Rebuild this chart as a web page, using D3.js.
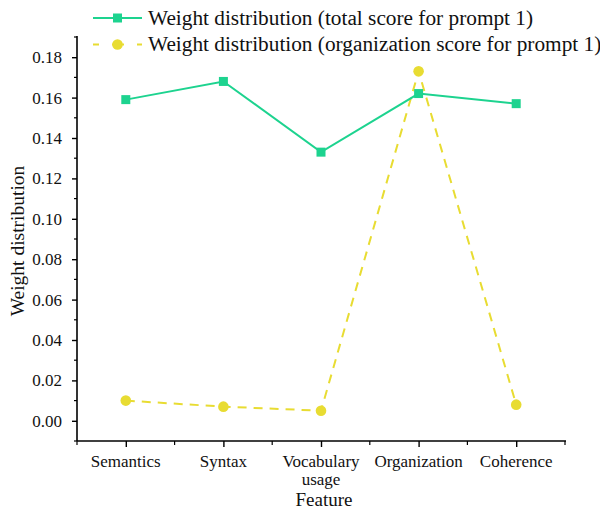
<!DOCTYPE html>
<html><head><meta charset="utf-8">
<script src="https://cdn.jsdelivr.net/npm/d3@7"></script>
<style>body{margin:0;background:#fff}svg{display:block}svg text{font-family:"Liberation Serif","Times New Roman",serif !important;fill:#111}</style>
</head><body><svg id="c" width="600" height="509"></svg>
<script>
const categories = ["Semantics","Syntax","Vocabulary usage","Organization","Coherence"];
const totalScore = [0.159,0.168,0.133,0.162,0.157];
const orgScore = [0.010,0.007,0.005,0.173,0.008];
const yTicks = [0.00,0.02,0.04,0.06,0.08,0.10,0.12,0.14,0.16,0.18];
const seriesNames = ["Weight distribution (total score for prompt 1)","Weight distribution (organization score for prompt 1)"];
const green = "#1dd38f", yellow = "#e8dc32";

const svg = d3.select("#c");
const L=77, R=565, T=37, B=441;
const x = d3.scaleLinear().domain([0.5,5.5]).range([L,R]);
const y = d3.scaleLinear().domain([-0.01,0.19]).range([B,T]);

// axes
const g = svg.append("g");
g.append("line").attr("x1",L).attr("x2",L).attr("y1",T-1).attr("y2",B).attr("stroke","#000").attr("stroke-width",1.6);
g.append("line").attr("x1",L).attr("x2",R+1).attr("y1",B).attr("y2",B).attr("stroke","#000").attr("stroke-width",1.6);

const yAxis = d3.axisLeft(y).tickValues(yTicks).tickFormat(d3.format(".2f")).tickSize(5).tickPadding(10);
const ya = svg.append("g").attr("transform",`translate(${L},0)`).call(yAxis);
ya.select(".domain").remove();
ya.attr("font-size",null).attr("font-family",null);
ya.selectAll("line").attr("stroke","#000").attr("stroke-width",1.4);
ya.selectAll("text").style("font-size","17px").attr("fill","#111");
const yMinor = d3.range(-0.01,0.195,0.02).filter(v=>v>-0.011);
ya.selectAll(".mn").data(yMinor).enter().append("line").attr("class","mn")
  .attr("x1",0).attr("x2",-3).attr("y1",d=>y(d)).attr("y2",d=>y(d)).attr("stroke","#000").attr("stroke-width",1.2);

const xAxis = d3.axisBottom(x).tickValues(d3.range(1,6)).tickFormat(()=>"").tickSize(6);
const xa = svg.append("g").attr("transform",`translate(0,${B})`).call(xAxis);
xa.select(".domain").remove();
xa.selectAll("line").attr("stroke","#000").attr("stroke-width",1.4);
xa.selectAll(".mn").data([0.5,1.5,2.5,3.5,4.5,5.5]).enter().append("line").attr("class","mn")
  .attr("x1",d=>x(d)).attr("x2",d=>x(d)).attr("y1",0).attr("y2",4).attr("stroke","#000").attr("stroke-width",1.2);
categories.forEach((c,i)=>{
  const words = c==="Vocabulary usage" ? ["Vocabulary","usage"] : [c];
  words.forEach((w,j)=>{
    svg.append("text").attr("x",x(i+1)).attr("y",467+j*18).attr("text-anchor","middle").style("font-size","17px").text(w);
  });
});

svg.append("text").attr("x",x(3)+3).attr("y",506).attr("text-anchor","middle").style("font-size","19px").text("Feature");
svg.append("text").attr("transform","translate(24,241) rotate(-90)").attr("text-anchor","middle").style("font-size","19.5px").text("Weight distribution");

// lines
const line = d3.line().x((d,i)=>x(i+1)).y(d=>y(d));
svg.append("path").attr("d",line(orgScore)).attr("fill","none").attr("stroke",yellow).attr("stroke-width",2).attr("stroke-dasharray","9,7");
svg.append("path").attr("d",line(totalScore)).attr("fill","none").attr("stroke",green).attr("stroke-width",2);
svg.selectAll(".sq").data(totalScore).enter().append("rect")
  .attr("x",(d,i)=>x(i+1)-4.5).attr("y",d=>y(d)-4.5).attr("width",9).attr("height",9).attr("fill",green);
svg.selectAll(".ci").data(orgScore).enter().append("circle")
  .attr("cx",(d,i)=>x(i+1)).attr("cy",d=>y(d)).attr("r",5.3).attr("fill",yellow);

// legend
const lg = svg.append("g");
[0,1].forEach(k=>{
  const yy = 18 + k*26.5;
  lg.append("line").attr("x1",93).attr("x2",142).attr("y1",yy).attr("y2",yy)
    .attr("stroke",k?yellow:green).attr("stroke-width",2).attr("stroke-dasharray",k?"6,13,12,13,6":null);
  if(k) lg.append("circle").attr("cx",117.5).attr("cy",yy).attr("r",5.3).attr("fill",yellow);
  else lg.append("rect").attr("x",113).attr("y",yy-4.5).attr("width",9).attr("height",9).attr("fill",green);
  lg.append("text").attr("x",148).attr("y",yy+6.5).style("font-size","21.3px").text(seriesNames[k]);
});
</script></body></html>
